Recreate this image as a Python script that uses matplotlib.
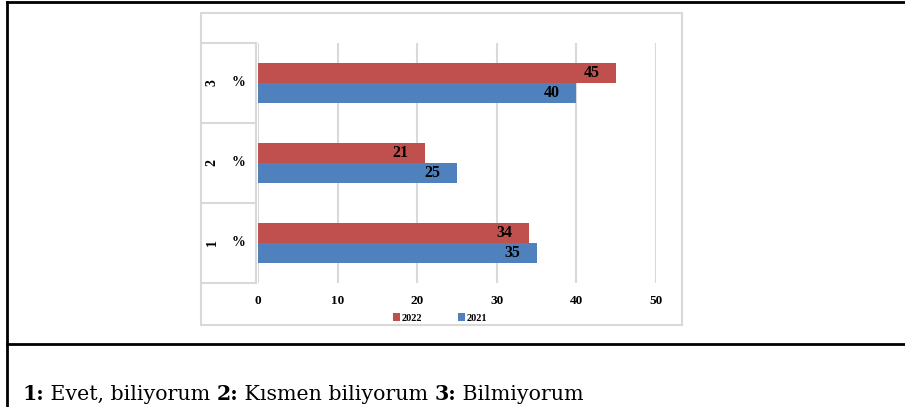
import matplotlib.pyplot as plt
from matplotlib.lines import Line2D
from matplotlib.patches import Rectangle

# Veriler
categories = ["1", "2", "3"]
values_2022 = [34, 21, 45]
values_2021 = [35, 25, 40]
xticks = [0, 10, 20, 30, 40, 50]

red = "#C0504D"
blue = "#4F81BD"
grid = "#D9D9D9"
serif = ["Liberation Serif", "DejaVu Serif"]

W, H = 905, 407
fig = plt.figure(figsize=(W / 100, H / 100), dpi=100)
fig.patch.set_facecolor("white")


def fx(px):
    return px / W


def fy(py):
    return 1 - py / H


# Grafik alanı
ax = fig.add_axes([fx(258), fy(283), fx(656) - fx(258), fy(43) - fy(283)])
ypos = list(range(len(categories)))
h = 0.25
ax.barh([y + h / 2 for y in ypos], values_2022, height=h, color=red, label="2022", zorder=3)
ax.barh([y - h / 2 for y in ypos], values_2021, height=h, color=blue, label="2021", zorder=3)

ax.set_xlim(0, 50)
ax.set_ylim(-0.5, 2.5)
ax.set_xticks(xticks)
ax.set_xticklabels([str(t) for t in xticks], fontfamily=serif, fontweight="bold", fontsize=9.5)
ax.tick_params(axis="x", length=0, pad=9)
ax.set_yticks([])
for s in ax.spines.values():
    s.set_visible(False)
ax.grid(axis="x", color=grid, linewidth=1.5, zorder=0)

# Çubuk etiketleri
for y, v22, v21 in zip(ypos, values_2022, values_2021):
    ax.annotate(str(v22), (v22, y + h / 2), xytext=(-12, 0), textcoords="offset points",
                ha="right", va="center", fontfamily=serif, fontweight="bold", fontsize=11.5, zorder=4)
    ax.annotate(str(v21), (v21, y - h / 2), xytext=(-12, 0), textcoords="offset points",
                ha="right", va="center", fontfamily=serif, fontweight="bold", fontsize=11.5, zorder=4)

# Kategori kutuları
yt = ax.get_yaxis_transform()
xl = (201 - 258) / 398
xr = (256 - 258) / 398
for b in [-0.5, 0.5, 1.5, 2.5]:
    ax.add_line(Line2D([xl, xr], [b, b], transform=yt, color=grid, lw=1.5, clip_on=False))
ax.add_line(Line2D([xr, xr], [-0.5, 2.5], transform=yt, color=grid, lw=1.5, clip_on=False))
for y, c in zip(ypos, categories):
    ax.text((212 - 258) / 398, y, c, transform=yt, rotation=90, ha="center", va="center",
            fontfamily=serif, fontweight="bold", fontsize=10)
    ax.text((238 - 258) / 398, y, "%", transform=yt, ha="center", va="center",
            fontfamily=serif, fontweight="bold", fontsize=10)

# Grafik çerçevesi
fig.add_artist(Rectangle((fx(201), fy(325)), fx(682) - fx(201), fy(13) - fy(325),
                         transform=fig.transFigure, fill=False, edgecolor=grid, lw=1.5))

handles, labels = ax.get_legend_handles_labels()
fig.legend(handles, labels, loc="center", bbox_to_anchor=(fx(440), fy(318)), ncol=2,
           frameon=False, handlelength=0.7, handleheight=0.7, handletextpad=0.1, columnspacing=3.5,
           prop={"family": serif, "weight": "bold", "size": 7.5})

# Tablo çizgileri
fig.add_artist(Line2D([fx(7), fx(7)], [fy(2), 0], color="black", lw=2))
fig.add_artist(Line2D([fx(7), 1], [fy(2), fy(2)], color="black", lw=2))
fig.add_artist(Line2D([fx(7), 1], [fy(344), fy(344)], color="black", lw=2))

# Açıklama
note_font = ["DejaVu Serif"]
pieces = [("1:", "bold"), (" Evet, biliyorum ", "normal"), ("2:", "bold"),
          (" Kısmen biliyorum ", "normal"), ("3:", "bold"), (" Bilmiyorum", "normal")]
prev = fig.text(fx(22), fy(404), pieces[0][0], fontweight=pieces[0][1],
                fontfamily=note_font, fontsize=14.8, ha="left", va="bottom")
for txt, wt in pieces[1:]:
    prev = fig.add_artist(plt.Annotation(txt, xy=(1, 0), xycoords=prev, ha="left", va="bottom",
                                         fontweight=wt, fontfamily=note_font, fontsize=14.8))

fig.savefig("out.png", dpi=100)
